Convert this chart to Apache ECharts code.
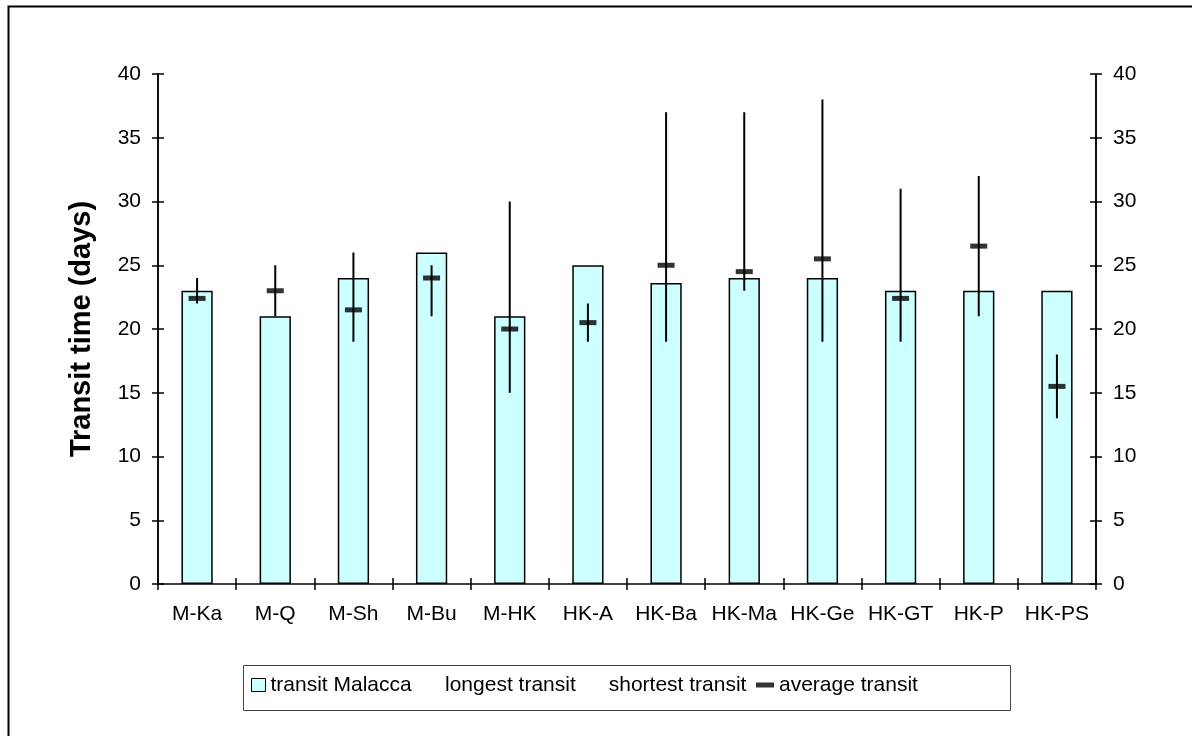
<!DOCTYPE html>
<html>
<head>
<meta charset="utf-8">
<script src="https://cdn.jsdelivr.net/npm/echarts@6/dist/echarts.min.js"></script>
<style>
html,body{margin:0;padding:0;background:#fff;}
#chart{width:1192px;height:736px;}
</style>
</head>
<body>
<div id="chart"></div>
<script>
const categories = ['M-Ka','M-Q','M-Sh','M-Bu','M-HK','HK-A','HK-Ba','HK-Ma','HK-Ge','HK-GT','HK-P','HK-PS'];
const transitMalacca = [23, 21, 24, 26, 21, 25, 23.6, 24, 24, 23, 23, 23];
const longestTransit = [24, 25, 26, 25, 30, 22, 37, 37, 38, 31, 32, 18];
const shortestTransit = [22, 21, 19, 21, 15, 19, 19, 23, 19, 19, 21, 13];
const averageTransit = [22.4, 23, 21.5, 24, 20, 20.5, 25, 24.5, 25.5, 22.4, 26.5, 15.5];
const yTicks = {min: 0, max: 40, interval: 5};

const FONT = "'Liberation Sans', Arial, sans-serif";
const chart = echarts.init(document.getElementById('chart'), null, {renderer: 'canvas'});

const axisLineStyle = {color: '#000', width: 1.5};
const labelStyle = {color: '#000', fontSize: 21, fontFamily: FONT};

function yAx(pos, withLabels, inside) {
  return {
    type: 'value', position: pos, min: yTicks.min, max: yTicks.max, interval: yTicks.interval,
    axisLine: {show: true, lineStyle: axisLineStyle},
    axisTick: {show: true, inside: inside, length: 6, lineStyle: axisLineStyle},
    axisLabel: withLabels ? Object.assign({show: true, margin: 17}, labelStyle) : {show: false},
    splitLine: {show: false}
  };
}

const yAxes = [yAx('left', true, false), yAx('right', true, false), yAx('left', false, true), yAx('right', false, true)];
yAxes[0].name = 'Transit time (days)';
yAxes[0].nameLocation = 'middle';
yAxes[0].nameGap = 62;
yAxes[0].nameTextStyle = {color: '#000', fontSize: 29, fontWeight: 'bold', fontFamily: FONT};

const legendText = {color: '#000', fontSize: 21, fontFamily: FONT, lineHeight: 22};

chart.setOption({
  animation: false,
  backgroundColor: '#fff',
  grid: {left: 158, right: 96, top: 74, bottom: 152, containLabel: false},
  xAxis: [
    {
      type: 'category', data: categories, position: 'bottom',
      axisLine: {show: true, lineStyle: axisLineStyle},
      axisTick: {show: true, inside: false, length: 6, alignWithLabel: false, lineStyle: axisLineStyle},
      axisLabel: Object.assign({margin: 20, interval: 0}, labelStyle),
      splitLine: {show: false}
    },
    {
      type: 'category', data: categories, position: 'bottom',
      axisLine: {show: false},
      axisTick: {show: true, inside: true, length: 6, alignWithLabel: false, lineStyle: axisLineStyle},
      axisLabel: {show: false},
      splitLine: {show: false}
    }
  ],
  yAxis: yAxes,
  legend: [
    {
      data: [{name: 'transit Malacca', icon: 'rect'}], left: 251, top: 674, padding: 0,
      itemWidth: 14, itemHeight: 13, itemGap: 0,
      itemStyle: {borderColor: '#000', borderWidth: 1},
      textStyle: legendText, selectedMode: false
    },
    {
      data: [{name: 'longest transit', icon: 'none'}, {name: 'shortest transit', icon: 'none'}],
      left: 440, top: 674, padding: 0, itemWidth: 0, itemHeight: 13, itemGap: 28,
      textStyle: legendText, selectedMode: false
    },
    {
      data: [{name: 'average transit', icon: 'rect'}],
      left: 756, top: 674, padding: 0, itemWidth: 18, itemHeight: 5, itemGap: 0,
      itemStyle: {color: '#000'},
      textStyle: legendText, selectedMode: false
    }
  ],
  graphic: [
    {type: 'rect', left: 241, top: 663, shape: {width: 767, height: 45}, style: {fill: 'none', stroke: '#444', lineWidth: 1}, z: 0},
    {type: 'rect', left: 6, top: 4, shape: {width: 1200, height: 760}, style: {fill: 'none', stroke: '#000', lineWidth: 2}, z: 0}
  ],
  series: [
    {
      name: 'transit Malacca', type: 'bar', data: transitMalacca, barWidth: '40%',
      xAxisIndex: 0, yAxisIndex: 0,
      itemStyle: {color: '#CCFFFF', borderColor: '#000', borderWidth: 1.5}
    },
    {
      name: 'longest transit', type: 'custom', xAxisIndex: 0, yAxisIndex: 0,
      data: categories.map((c, i) => [i, shortestTransit[i], longestTransit[i]]),
      encode: {x: 0, y: [1, 2]},
      itemStyle: {color: '#000'},
      renderItem: function (params, api) {
        const lo = api.coord([api.value(0), api.value(1)]);
        const hi = api.coord([api.value(0), api.value(2)]);
        return {type: 'line', shape: {x1: lo[0], y1: lo[1], x2: hi[0], y2: hi[1]}, style: {stroke: '#000', lineWidth: 2}};
      },
      z: 3
    },
    {
      name: 'shortest transit', type: 'scatter', xAxisIndex: 0, yAxisIndex: 0,
      data: shortestTransit, symbol: 'none', symbolSize: 0, itemStyle: {color: '#000'}
    },
    {
      name: 'average transit', type: 'scatter', xAxisIndex: 0, yAxisIndex: 0,
      data: averageTransit, symbol: 'rect', symbolSize: [17, 5],
      itemStyle: {color: '#000'}, z: 4
    }
  ]
});
</script>
</body>
</html>
